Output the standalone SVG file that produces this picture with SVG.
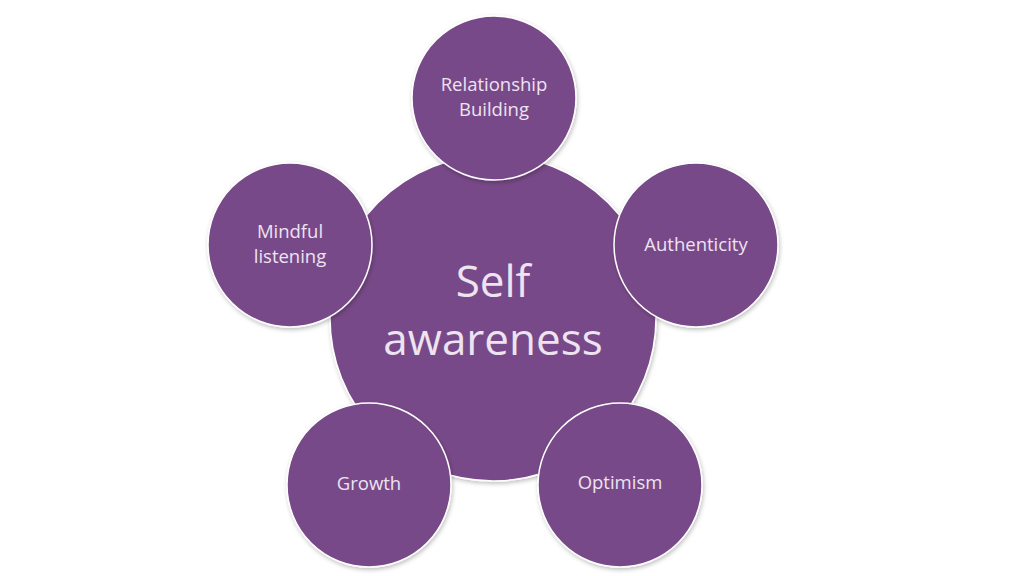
<svg xmlns="http://www.w3.org/2000/svg" width="1024" height="576" viewBox="0 0 1024 576">
<defs>
<filter id="sh" x="-10%" y="-10%" width="130%" height="130%">
<feDropShadow dx="1" dy="2" stdDeviation="2" flood-color="#000" flood-opacity="0.25"/>
</filter>
</defs>
<style>
.c{fill:#784A88;stroke:#ffffff;stroke-width:1.5;filter:url(#sh)}
.t{font-family:"Open Sans","Noto Sans",sans-serif;fill:#EDE3F1;text-anchor:middle}
.s{font-size:18.5px}
.b{font-size:44px}
</style>
<rect width="1024" height="576" fill="#ffffff"/>
<g id="connectors"></g>
<g id="center">
<circle class="c" cx="493" cy="318" r="163"/>
<text class="t b" x="493" y="297">Self</text>
<text class="t b" x="493" y="355">awareness</text>
</g>
<g id="relationship">
<circle class="c" cx="494" cy="98" r="82"/>
<text class="t s" x="494" y="91">Relationship</text>
<text class="t s" x="494" y="116">Building</text>
</g>
<g id="authenticity">
<circle class="c" cx="696" cy="245" r="82"/>
<text class="t s" x="696" y="251">Authenticity</text>
</g>
<g id="mindful">
<circle class="c" cx="290" cy="245" r="82"/>
<text class="t s" x="290" y="238">Mindful</text>
<text class="t s" x="290" y="263">listening</text>
</g>
<g id="growth">
<circle class="c" cx="369" cy="485" r="82"/>
<text class="t s" x="369" y="490">Growth</text>
</g>
<g id="optimism">
<circle class="c" cx="620" cy="485" r="82"/>
<text class="t s" x="620" y="489">Optimism</text>
</g>
</svg>
